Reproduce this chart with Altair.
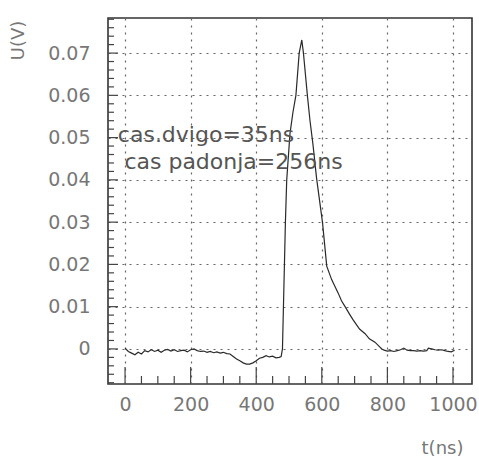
import altair as alt
import pandas as pd

# Signal trace: time (ns) and voltage (V)
t_ns = [0, 10, 20, 30, 40, 50, 60, 70, 80, 90, 100, 110, 120, 130, 140, 150,
        160, 170, 180, 190, 200, 210, 220, 230, 240, 250, 260, 270, 280, 290,
        300, 310, 320, 330, 340, 350, 360, 370, 380, 390, 400, 410, 420, 430,
        440, 450, 460, 470, 476, 480, 483, 486, 489, 493, 503, 512, 521, 531,
        539, 544, 550, 556, 564, 573, 584, 602, 608, 615, 630, 650, 660, 671,
        684, 696, 705, 715, 732, 745, 762, 775, 783, 790, 800, 810, 820, 830,
        840, 850, 860, 870, 880, 890, 900, 910, 920, 925, 935, 945, 955, 965,
        975, 985, 995, 1005]
u_v = [0.0002, -0.0006, -0.0010, -0.0014, -0.0008, -0.0012, -0.0004, -0.0007,
       -0.0002, -0.0006, -0.0003, -0.0008, -0.0003, -0.0001, -0.0005, -0.0002,
       -0.0006, -0.0004, -0.0003, -0.0007, -0.0002, 0.0000, -0.0004, -0.0006,
       -0.0005, -0.0008, -0.0006, -0.0009, -0.0007, -0.0010, -0.0008, -0.0011,
       -0.0012, -0.0018, -0.0024, -0.0028, -0.0033, -0.0036, -0.0036, -0.0033,
       -0.0028, -0.0022, -0.0020, -0.0016, -0.0019, -0.0017, -0.0021, -0.0020,
       -0.0018, 0.0000, 0.0100, 0.0200, 0.0300, 0.0400, 0.0510, 0.0560, 0.0600,
       0.0700, 0.0731, 0.0700, 0.0650, 0.0600, 0.0540, 0.0484, 0.0404, 0.0300,
       0.0252, 0.0196, 0.0164, 0.0132, 0.0114, 0.0100, 0.0083, 0.0068, 0.0058,
       0.0047, 0.0036, 0.0024, 0.0016, 0.0006, 0.0000, -0.0003, -0.0005,
       -0.0004, -0.0006, -0.0004, -0.0002, 0.0002, -0.0003, -0.0004, -0.0004,
       -0.0005, -0.0004, -0.0005, -0.0004, 0.0002, 0.0000, -0.0002, -0.0003,
       -0.0002, -0.0004, -0.0006, -0.0007, -0.0003]

x_major = [0, 200, 400, 600, 800, 1000]
x_minor = [50, 100, 150, 250, 300, 350, 450, 500, 550, 650, 700, 750, 850, 900, 950]
y_major = [0.0, 0.01, 0.02, 0.03, 0.04, 0.05, 0.06, 0.07]
y_minor = [-0.008, -0.006, -0.004, -0.002, 0.002, 0.004, 0.006, 0.008, 0.012,
           0.014, 0.016, 0.018, 0.022, 0.024, 0.026, 0.028, 0.032, 0.034, 0.036,
           0.038, 0.042, 0.044, 0.046, 0.048, 0.052, 0.054, 0.056, 0.058, 0.062,
           0.064, 0.066, 0.068, 0.072, 0.074, 0.076, 0.078]

notes_text = ["cas.dvigo=35ns", "cas padonja=256ns"]
notes_t = [-22, -2]
notes_u = [0.0506, 0.0443]

X_DOMAIN = [-52, 1058]
Y_DOMAIN = [-0.0083, 0.0783]
FONT = "DejaVu Sans"
W, H = 364, 366

df = pd.DataFrame({"t": t_ns, "u": u_v})
xs = alt.Scale(domain=X_DOMAIN, nice=False, zero=False)
ys = alt.Scale(domain=Y_DOMAIN, nice=False, zero=False)

line = alt.Chart(df).mark_line(color="#2a2a2a", strokeWidth=1.2).encode(
    x=alt.X("t:Q", scale=xs,
            axis=alt.Axis(values=x_major, grid=True, gridDash=[2, 5],
                          gridColor="#666", gridWidth=1.2, domain=False,
                          ticks=False, labelFont=FONT, labelFontSize=19,
                          labelColor="#777", labelPadding=11, format="d",
                          title="t(ns)", titleFont=FONT, titleFontSize=18,
                          titleFontWeight="normal", titleColor="#777",
                          titleX=334, titleY=64, titleAlign="center",
                          titleBaseline="middle", labelFlush=False,
                          labelOverlap=False, labelBound=False)),
    y=alt.Y("u:Q", scale=ys,
            axis=alt.Axis(values=y_major, grid=True, gridDash=[2, 5],
                          gridColor="#666", gridWidth=1.2, domain=False,
                          ticks=False, labelFont=FONT, labelFontSize=19,
                          labelColor="#777", labelPadding=18,
                          labelExpr="datum.value == 0 ? '0' : format(datum.value, '.2f')",
                          title="U(V)", titleFont=FONT, titleFontSize=18,
                          titleFontWeight="normal", titleColor="#777",
                          titleAngle=270, titleX=-90, titleY=22,
                          titleAlign="center", titleBaseline="middle",
                          labelFlush=False)),
    order="t:Q",
)

def xticks(vals, length):
    d = pd.DataFrame({"t": vals})
    return alt.Chart(d).mark_rule(color="#444", strokeWidth=1.2).encode(
        x=alt.X("t:Q", scale=xs), y=alt.value(H), y2=alt.value(H - length))

def yticks(vals, length):
    d = pd.DataFrame({"u": vals})
    return alt.Chart(d).mark_rule(color="#444", strokeWidth=1.2).encode(
        y=alt.Y("u:Q", scale=ys), x=alt.value(0), x2=alt.value(length))

notes = alt.Chart(pd.DataFrame({"t": notes_t, "u": notes_u, "s": notes_text})).mark_text(
    align="left", baseline="middle", font=FONT, fontSize=22, color="#555"
).encode(x=alt.X("t:Q", scale=xs), y=alt.Y("u:Q", scale=ys), text="s:N")

chart = alt.layer(
    line, xticks(x_major, 17), xticks(x_minor, 8),
    yticks(y_major, 10), yticks(y_minor, 6), notes
).properties(
    width=W, height=H, autosize="none", background="white",
    padding={"left": 108, "top": 18, "right": 7, "bottom": 77},
).configure_view(stroke="#333", strokeWidth=1.6)

chart.save("out.html", embed_options={"renderer": "svg", "actions": False})
